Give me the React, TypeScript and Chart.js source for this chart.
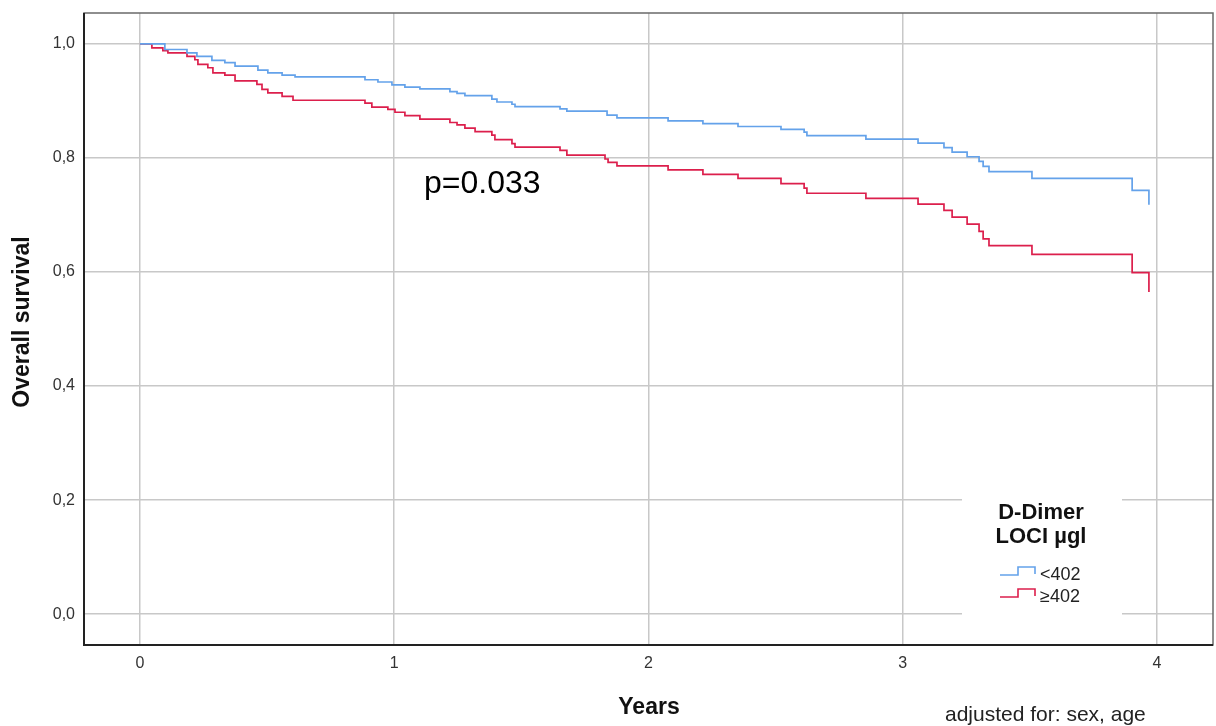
import React, { useEffect, useRef } from "react";
import { Chart, registerables } from "chart.js";

Chart.register(...registerables);

// ---- Data ----
const xTicks = [0, 1, 2, 3, 4];
const yTicks = [0, 0.2, 0.4, 0.6, 0.8, 1.0];

const lowLabel = "<402";
const highLabel = "≥402";

const lowTimes = [
  0, 0.098, 0.185, 0.224, 0.283, 0.334, 0.374, 0.464, 0.503, 0.559, 0.61, 0.885,
  0.936, 0.991, 1.042, 1.101, 1.219, 1.247, 1.278, 1.384, 1.404, 1.463, 1.475,
  1.652, 1.679, 1.837, 1.876, 2.077, 2.214, 2.352, 2.521, 2.612, 2.623, 2.855,
  3.06, 3.162, 3.194, 3.253, 3.3, 3.316, 3.339, 3.508, 3.902, 3.968,
];
const lowSurv = [
  1.0, 0.99, 0.984, 0.978, 0.971, 0.967, 0.961, 0.954, 0.949, 0.945, 0.942, 0.937,
  0.933, 0.928, 0.924, 0.921, 0.916, 0.913, 0.909, 0.903, 0.898, 0.894, 0.89,
  0.886, 0.882, 0.875, 0.87, 0.865, 0.86, 0.855, 0.85, 0.845, 0.839, 0.833,
  0.826, 0.818, 0.81, 0.802, 0.794, 0.785, 0.776, 0.764, 0.743, 0.718,
];

const highTimes = [
  0, 0.047, 0.09, 0.11, 0.185, 0.216, 0.228, 0.267, 0.287, 0.334, 0.374, 0.46,
  0.48, 0.503, 0.559, 0.602, 0.885, 0.912, 0.975, 1.003, 1.042, 1.101, 1.219,
  1.247, 1.278, 1.318, 1.384, 1.396, 1.463, 1.475, 1.652, 1.679, 1.829, 1.841,
  1.876, 2.077, 2.214, 2.352, 2.521, 2.612, 2.623, 2.855, 3.06, 3.162, 3.194,
  3.253, 3.3, 3.316, 3.339, 3.508, 3.902, 3.968,
];
const highSurv = [
  1.0, 0.993, 0.988, 0.984, 0.978, 0.972, 0.964, 0.958, 0.949, 0.945, 0.935, 0.929,
  0.92, 0.914, 0.908, 0.901, 0.896, 0.889, 0.885, 0.88, 0.874, 0.868, 0.862,
  0.858, 0.852, 0.846, 0.84, 0.832, 0.825, 0.819, 0.813, 0.805, 0.798, 0.792,
  0.786, 0.779, 0.771, 0.764, 0.755, 0.747, 0.738, 0.729, 0.719, 0.708, 0.696,
  0.684, 0.671, 0.658, 0.646, 0.631, 0.599, 0.565,
];

const BLUE = "#64a2ea";
const RED = "#dc1f4c";
const FONT = "Arial, 'Liberation Sans', sans-serif";

const decorPlugin = {
  id: "decor",
  afterDraw(chart: any) {
    const ctx = chart.ctx as CanvasRenderingContext2D;
    const { left, right, top, bottom } = chart.chartArea;
    ctx.save();

    // frame
    ctx.strokeStyle = "#6a6a6a";
    ctx.lineWidth = 1.5;
    ctx.strokeRect(left, top, right - left, bottom - top);
    ctx.strokeStyle = "#222";
    ctx.lineWidth = 2;
    ctx.beginPath();
    ctx.moveTo(left, top);
    ctx.lineTo(left, bottom);
    ctx.lineTo(right, bottom);
    ctx.stroke();

    // legend box
    ctx.fillStyle = "#fff";
    ctx.fillRect(962, 488, 160, 134);
    ctx.fillStyle = "#111";
    ctx.textAlign = "center";
    ctx.textBaseline = "alphabetic";
    ctx.font = `bold 22px ${FONT}`;
    ctx.fillText("D-Dimer", 1041, 519);
    ctx.fillText("LOCI µgl", 1041, 543);

    const drawIcon = (y: number, color: string) => {
      ctx.strokeStyle = color;
      ctx.lineWidth = 1.6;
      ctx.beginPath();
      ctx.moveTo(1000, y + 4);
      ctx.lineTo(1018, y + 4);
      ctx.lineTo(1018, y - 4);
      ctx.lineTo(1035, y - 4);
      ctx.lineTo(1035, y + 3);
      ctx.stroke();
    };
    drawIcon(571, BLUE);
    drawIcon(593, RED);
    ctx.fillStyle = "#222";
    ctx.textAlign = "left";
    ctx.font = `18px ${FONT}`;
    ctx.fillText(lowLabel, 1040, 580);
    ctx.fillText(highLabel, 1040, 602);

    // annotations
    ctx.fillStyle = "#000";
    ctx.font = `32px ${FONT}`;
    ctx.fillText("p=0.033", 424, 193);

    ctx.fillStyle = "#222";
    ctx.font = `21px ${FONT}`;
    ctx.fillText("adjusted for: sex, age", 945, 721);

    // axis titles
    ctx.fillStyle = "#111";
    ctx.font = `bold 23px ${FONT}`;
    ctx.textAlign = "center";
    ctx.fillText("Years", 649, 714);

    ctx.save();
    ctx.translate(29, 322);
    ctx.rotate(-Math.PI / 2);
    ctx.font = `bold 23px ${FONT}`;
    ctx.fillText("Overall survival", 0, 0);
    ctx.restore();

    ctx.restore();
  },
};

export default function App() {
  const ref = useRef<HTMLCanvasElement>(null);

  useEffect(() => {
    if (!ref.current) return;
    const chart = new Chart(ref.current, {
      type: "line",
      data: {
        datasets: [
          {
            label: lowLabel,
            data: lowTimes.map((t, i) => ({ x: t, y: lowSurv[i] })),
            borderColor: BLUE,
            borderWidth: 1.7,
            stepped: "before",
            pointRadius: 0,
            fill: false,
          },
          {
            label: highLabel,
            data: highTimes.map((t, i) => ({ x: t, y: highSurv[i] })),
            borderColor: RED,
            borderWidth: 1.7,
            stepped: "before",
            pointRadius: 0,
            fill: false,
          },
        ],
      },
      options: {
        responsive: false,
        animation: false,
        layout: { padding: { left: 0, right: 3, top: 13, bottom: 0 } },
        plugins: {
          legend: { display: false },
          tooltip: { enabled: false },
          title: { display: false },
        },
        scales: {
          x: {
            type: "linear",
            min: -0.22,
            max: 4.22,
            afterBuildTicks: (s: any) => {
              s.ticks = xTicks.map((v) => ({ value: v }));
            },
            afterFit: (s: any) => {
              s.height = 81;
              s.paddingLeft = 0;
              s.paddingRight = 0;
            },
            grid: { color: "#c8c8c8", lineWidth: 1.5, drawTicks: false },
            border: { display: false },
            ticks: {
              padding: 9,
              color: "#333",
              font: { family: FONT, size: 16 },
              callback: (v: any) => String(v),
              maxRotation: 0,
            },
          },
          y: {
            type: "linear",
            min: -0.054,
            max: 1.054,
            afterBuildTicks: (s: any) => {
              s.ticks = yTicks.map((v) => ({ value: v }));
            },
            afterFit: (s: any) => {
              s.width = 84;
              s.paddingTop = 0;
              s.paddingBottom = 0;
            },
            grid: { color: "#c8c8c8", lineWidth: 1.5, drawTicks: false },
            border: { display: false },
            ticks: {
              padding: 9,
              color: "#333",
              font: { family: FONT, size: 16 },
              callback: (v: any) => Number(v).toFixed(1).replace(".", ","),
            },
          },
        },
      },
      plugins: [decorPlugin],
    });
    return () => chart.destroy();
  }, []);

  return (
    <div style={{ position: "absolute", left: 0, top: 0, width: 1216, height: 726, background: "#fff" }}>
      <canvas ref={ref} width={1216} height={726} style={{ display: "block" }} />
    </div>
  );
}
